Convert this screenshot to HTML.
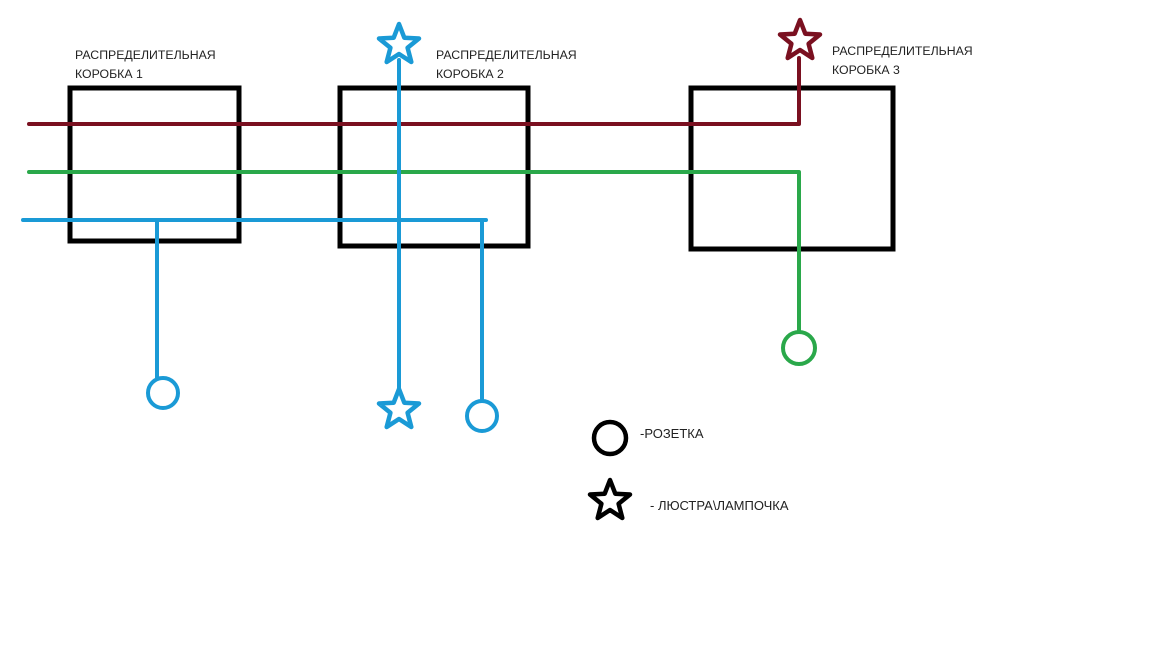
<!DOCTYPE html>
<html><head><meta charset="utf-8"><style>
body{margin:0;background:#fff;width:1152px;height:648px;overflow:hidden}
svg text{font-family:"Liberation Sans",sans-serif;font-size:12.3px;fill:#222}
svg text.l{font-size:13px}
</style></head><body>
<svg width="1152" height="648" viewBox="0 0 1152 648">
<defs>
<path id="st" d="M0,-21 L5.3,-7.3 L20,-6.5 L8.6,2.8 L12.3,17 L0,9 L-12.3,17 L-8.6,2.8 L-20,-6.5 L-5.3,-7.3 Z" fill="#fff" stroke-width="4.5" stroke-linejoin="round"/>
</defs>
<g fill="none" stroke="#000" stroke-width="5">
<rect x="70" y="88" width="169" height="153"/>
<rect x="340" y="88" width="188" height="158"/>
<rect x="691" y="88" width="202" height="161"/>
</g>
<g fill="none" stroke-width="4" stroke-linecap="round" stroke-linejoin="round">
<path d="M29,124 H799 V58" stroke="#7a1020"/>
<path d="M29,172 H799 V331" stroke="#2aa84a"/>
<path d="M23,220 H486 M157,220 V378 M399,60 V392 M482,220 V401" stroke="#1a9ad6"/>
<circle cx="163" cy="393" r="15" stroke="#1a9ad6"/>
<circle cx="482" cy="416" r="15" stroke="#1a9ad6"/>
<circle cx="799" cy="348" r="16" stroke="#2aa84a"/>
<circle cx="610" cy="438" r="16" stroke="#000" stroke-width="4.5"/>
</g>
<use href="#st" x="399" y="45" stroke="#1a9ad6"/>
<use href="#st" x="399" y="410" stroke="#1a9ad6"/>
<use href="#st" x="800" y="41" stroke="#7a1020"/>
<use href="#st" x="610" y="501" stroke="#000"/>
<text x="75" y="59">РАСПРЕДЕЛИТЕЛЬНАЯ</text>
<text x="75" y="78">КОРОБКА 1</text>
<text x="436" y="59">РАСПРЕДЕЛИТЕЛЬНАЯ</text>
<text x="436" y="78">КОРОБКА 2</text>
<text x="832" y="55">РАСПРЕДЕЛИТЕЛЬНАЯ</text>
<text x="832" y="74">КОРОБКА 3</text>
<text class="l" x="640" y="438">-РОЗЕТКА</text>
<text class="l" x="650" y="510">- ЛЮСТРА\ЛАМПОЧКА</text>
</svg>
</body></html>
